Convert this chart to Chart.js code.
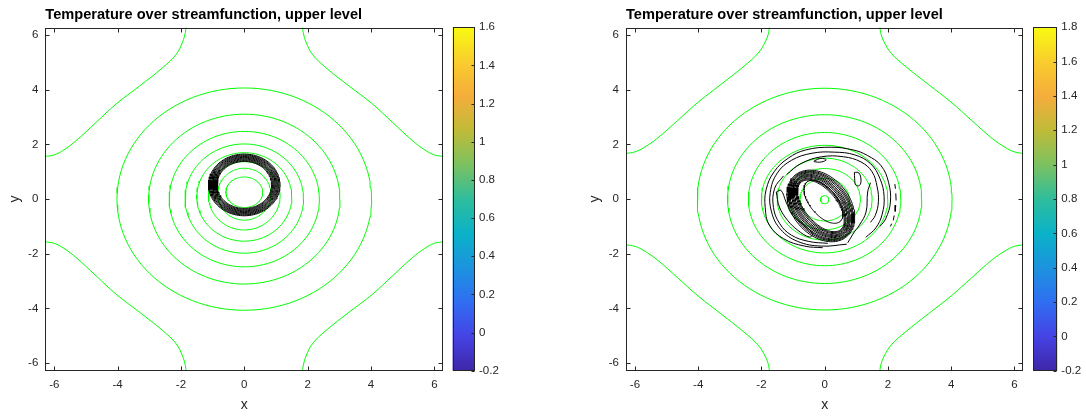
<!doctype html>
<html lang="en">
<head>
<meta charset="utf-8">
<title>Temperature over streamfunction, upper level</title>
<script src="https://cdn.jsdelivr.net/npm/chart.js@4.4.1/dist/chart.umd.min.js"></script>
<style>
  body { margin: 0; background: #fff; overflow: hidden; }
  canvas { position: absolute; top: 0; }
</style>
</head>
<body>
<canvas id="plotLeft" width="452" height="416" style="left:0px"></canvas>
<canvas id="barLeft" width="60" height="416" style="left:446px"></canvas>
<canvas id="plotRight" width="452" height="416" style="left:580px"></canvas>
<canvas id="barRight" width="59" height="416" style="left:1027px"></canvas>
<script>
const TWO_PI = 2 * Math.PI;
const titleText = 'Temperature over streamfunction, upper level';
const axisTicks = [-6, -4, -2, 0, 2, 4, 6];
const leftBarTicks = [-0.2, 0, 0.2, 0.4, 0.6, 0.8, 1, 1.2, 1.4, 1.6];
const rightBarTicks = [-0.2, 0, 0.2, 0.4, 0.6, 0.8, 1, 1.2, 1.4, 1.6, 1.8];
const barColors = ['#3e26a8', '#4543e4', '#306ef2', '#1c93de', '#0ab2c8', '#2fbd9c',
                   '#7cc160', '#c0bb38', '#f5ad3c', '#f9cd2d', '#f8fa12'];

// streamfunction contours (green), closed rings: [rx, ry, cy]
const leftStreamRings = [[4.02, 4.07, 0], [3.02, 3.11, 0], [2.37, 2.48, 0], [1.87, 2.0, 0.02],
                         [1.5, 1.62, 0.08], [1.13, 1.25, 0.12], [0.84, 0.95, 0.18], [0.58, 0.56, 0.25]];
const rightStreamRings = [[4.03, 4.06, 0], [3.07, 3.09, 0], [2.41, 2.44, 0], [2.0, 1.97, 0],
                          [1.5, 1.5, 0], [1.13, 1.12, 0], [0.78, 0.78, -0.02], [0.13, 0.15, -0.02]];
// open streamfunction contour in the upper-left corner (same shape in all four corners)
const leftCorner = [[-6.3, 1.56], [-6.0, 1.62], [-5.7, 1.8], [-5.31, 2.14], [-4.68, 2.81], [-4.05, 3.48],
                    [-3.31, 4.14], [-2.58, 4.81], [-2.15, 5.3], [-1.95, 5.75], [-1.86, 6.1], [-1.84, 6.3]];
const rightCorner = [[-6.3, 1.67], [-6.0, 1.73], [-5.7, 1.9], [-5.3, 2.22], [-4.65, 2.88], [-4.0, 3.55],
                     [-3.28, 4.2], [-2.55, 4.87], [-2.1, 5.35], [-1.87, 5.78], [-1.77, 6.1], [-1.75, 6.3]];

// temperature contours (black)
const leftTempCenter = [0, 0.52];
const leftTempRadii = [0.86, 0.89, 0.92, 0.95, 0.98, 1.01, 1.04, 1.07, 1.10, 1.13];

const rightTempCenter = [-0.12, -0.25];
const rightTempMajorDir = [0.588, -0.809];
const rightTempMinorDir = [0.717, 0.697];
const rightTempMajor = [1.07, 1.10, 1.13, 1.17, 1.20, 1.23, 1.26, 1.30, 1.33, 1.36, 1.39];
const rightTempMinor = [0.54, 0.58, 0.62, 0.67, 0.71, 0.75, 0.79, 0.84, 0.88, 0.92, 0.97];
const rightInnerOval = [-0.04, -0.1, 0.89, 0.45];

const rightSwirls = [
  [[-0.06, -1.78], [-0.64, -1.72], [-1.3, -1.45], [-1.75, -0.95], [-1.88, -0.3], [-1.85, 0.35], [-1.6, 1.0],
   [-1.15, 1.5], [-0.6, 1.8], [0.2, 1.9], [0.9, 1.8], [1.35, 1.6], [1.78, 1.23], [2.02, 0.62], [2.08, -0.11],
   [1.93, -0.72], [1.75, -1.0]],
  [[0.7, -1.65], [-0.11, -1.72], [-0.85, -1.55], [-1.4, -1.1], [-1.68, -0.47], [-1.72, 0.25], [-1.5, 0.95],
   [-1.05, 1.42], [-0.4, 1.68], [0.3, 1.72], [0.95, 1.62], [1.45, 1.3], [1.75, 0.75], [1.88, 0.1], [1.82, -0.55],
   [1.62, -1.05], [1.3, -1.4]],
  [[-1.2, 0.9], [-0.75, 1.3], [-0.1, 1.55], [0.6, 1.55], [1.15, 1.36], [1.5, 1.0], [1.66, 0.45], [1.7, -0.1],
   [1.6, -0.6], [1.45, -0.85]],
  [[1.45, 0.6], [1.36, 0.26], [1.31, -0.47], [1.1, -0.95], [0.94, -1.2], [0.73, -1.6]],
  [[-1.3, 0.85], [-1.58, 0.4], [-1.62, -0.3], [-1.42, -0.9], [-1.05, -1.32], [-0.5, -1.55], [0.1, -1.62]],
  [[-1.53, 0.26], [-1.38, 0.32], [-1.22, -0.11], [-1.01, -0.6], [-0.64, -0.96], [-0.38, -1.26], [-0.48, -1.39],
   [-0.85, -1.14], [-1.17, -0.78], [-1.43, -0.29], [-1.53, 0.26]],
  [[0.94, 0.98], [1.08, 0.96], [1.15, 0.7], [1.1, 0.5], [0.98, 0.52], [0.95, 0.75], [0.94, 0.98]],
  [[-0.33, 1.4], [-0.12, 1.49], [0.05, 1.44], [-0.1, 1.36], [-0.33, 1.37], [-0.33, 1.4]]
];
const rightDashes = [
  [[2.22, 0.55], [2.24, 0.38]], [[2.25, 0.21], [2.26, -0.05]], [[2.25, -0.22], [2.23, -0.45]],
  [[2.2, -0.6], [2.17, -0.78]], [[2.12, -0.9], [2.08, -1.0]]
];

Chart.defaults.font.family = "'Liberation Sans', Arial, sans-serif";
Chart.defaults.color = '#262626';

// closed curve from centre and two half-axis vectors
const ring = (cx, cy, ax, ay, bx, by) => {
  const pts = [];
  for (let k = 0; k <= 120; k++) {
    const t = k / 120 * TWO_PI;
    pts.push({x: cx + ax * Math.cos(t) + bx * Math.sin(t), y: cy + ay * Math.cos(t) + by * Math.sin(t)});
  }
  return pts;
};
const toXY = (arr, sx = 1, sy = 1) => arr.map(([x, y]) => ({x: sx * x, y: sy * y}));

const line = (pts, color, order, tension = 0) => ({
  data: pts, showLine: true, borderColor: color, borderWidth: 1,
  pointRadius: 0, tension: tension, fill: false, order: order
});

const streamSets = (rings, corner) => {
  const sets = rings.map(([rx, ry, cy]) => line(ring(0, cy, rx, 0, 0, ry), '#00ff00', 1));
  [[1, 1], [-1, 1], [1, -1], [-1, -1]].forEach(([sx, sy]) => {
    sets.push(line(toXY(corner, sx, sy), '#00ff00', 1, 0.4));
  });
  return sets;
};

const leftSets = streamSets(leftStreamRings, leftCorner).concat(
  leftTempRadii.map(r => line(ring(leftTempCenter[0], leftTempCenter[1], r, 0, 0, r), '#000000', 0))
);

const rightSets = streamSets(rightStreamRings, rightCorner).concat(
  rightTempMajor.map((m, i) => {
    const n = rightTempMinor[i];
    return line(ring(rightTempCenter[0], rightTempCenter[1],
      m * rightTempMajorDir[0], m * rightTempMajorDir[1],
      n * rightTempMinorDir[0], n * rightTempMinorDir[1]), '#000000', 0);
  }),
  [line(ring(rightInnerOval[0], rightInnerOval[1],
    rightInnerOval[2] * rightTempMajorDir[0], rightInnerOval[2] * rightTempMajorDir[1],
    rightInnerOval[3] * rightTempMinorDir[0], rightInnerOval[3] * rightTempMinorDir[1]), '#000000', 0)],
  rightSwirls.map(s => line(toXY(s), '#000000', 0, 0.4)),
  rightDashes.map(s => line(toXY(s), '#000000', 0))
);

// box round the plot area and inward tick marks
const framePlugin = {
  id: 'frame',
  afterDatasetsDraw(chart, args, opts) {
    const {ctx, chartArea: a, scales} = chart;
    const l = Math.round(a.left) + 0.5, r = Math.round(a.right) - 0.5;
    const t = Math.round(a.top) + 0.5, b = Math.round(a.bottom) - 0.5;
    const len = opts.len || 4;
    ctx.save();
    ctx.strokeStyle = '#262626';
    ctx.lineWidth = 1;
    ctx.beginPath();
    if (opts.xTicks) {
      scales.x.ticks.forEach(tk => {
        const px = Math.round(scales.x.getPixelForValue(tk.value)) + 0.5;
        ctx.moveTo(px, b); ctx.lineTo(px, b - len);
        ctx.moveTo(px, t); ctx.lineTo(px, t + len);
      });
    }
    scales.y.ticks.forEach(tk => {
      const py = Math.round(scales.y.getPixelForValue(tk.value)) + 0.5;
      if (opts.left) { ctx.moveTo(l, py); ctx.lineTo(l + len, py); }
      if (opts.right) { ctx.moveTo(r, py); ctx.lineTo(r - len, py); }
    });
    ctx.stroke();
    ctx.strokeRect(l, t, r - l, b - t);
    ctx.restore();
  }
};

const setTicks = list => scale => { scale.ticks = list.map(v => ({value: v})); };

const makePlot = (id, datasets, yWidth) => new Chart(document.getElementById(id), {
  type: 'scatter',
  data: {datasets: datasets},
  options: {
    responsive: false,
    animation: false,
    events: [],
    layout: {padding: {left: 0, right: 8.7, top: 0, bottom: 0}},
    plugins: {
      legend: {display: false},
      tooltip: {enabled: false},
      title: {
        display: true, text: titleText, align: 'start', fullSize: false, color: '#000000',
        font: {size: 14.6, weight: 'bold'}, padding: {top: 6, bottom: 4}
      },
      frame: {xTicks: true, left: true, right: true, len: 4}
    },
    scales: {
      x: {
        type: 'linear', min: -TWO_PI, max: TWO_PI,
        afterBuildTicks: setTicks(axisTicks),
        afterFit: s => { s.height = 45.3; },
        grid: {display: false, drawTicks: false},
        border: {display: false},
        ticks: {padding: 7, font: {size: 11.5}, maxRotation: 0, autoSkip: false, callback: v => String(v)},
        title: {display: true, text: 'x', font: {size: 14}, padding: {top: 0, bottom: 2}}
      },
      y: {
        type: 'linear', min: -TWO_PI, max: TWO_PI,
        afterBuildTicks: setTicks(axisTicks),
        afterFit: s => { s.width = yWidth; },
        grid: {display: false, drawTicks: false},
        border: {display: false},
        ticks: {padding: 7, font: {size: 11.5}, autoSkip: false, callback: v => String(v)},
        title: {display: true, text: 'y', font: {size: 14}, padding: {top: 7, bottom: 0}}
      }
    }
  },
  plugins: [framePlugin]
});

const barFill = context => {
  const chart = context.chart;
  const a = chart.chartArea;
  if (!a) return null;
  const g = chart.ctx.createLinearGradient(0, a.bottom, 0, a.top);
  barColors.forEach((c, i) => g.addColorStop(i / (barColors.length - 1), c));
  return g;
};

const makeBar = (id, ticks, padLeft, axisWidth) => new Chart(document.getElementById(id), {
  type: 'bar',
  data: {
    labels: [''],
    datasets: [{
      data: [[ticks[0], ticks[ticks.length - 1]]],
      backgroundColor: barFill, borderWidth: 0, barPercentage: 1, categoryPercentage: 1
    }]
  },
  options: {
    responsive: false,
    animation: false,
    events: [],
    layout: {padding: {left: padLeft, right: 0, top: 27.3, bottom: 45.3}},
    plugins: {
      legend: {display: false},
      tooltip: {enabled: false},
      frame: {xTicks: false, left: false, right: true, len: 3}
    },
    scales: {
      x: {display: false},
      y: {
        position: 'right', min: ticks[0], max: ticks[ticks.length - 1],
        afterBuildTicks: setTicks(ticks),
        afterFit: s => { s.width = axisWidth; },
        grid: {display: false, drawTicks: false},
        border: {display: false},
        ticks: {padding: 4, font: {size: 11.5}, autoSkip: false, callback: v => String(v)}
      }
    }
  },
  plugins: [framePlugin]
});

makePlot('plotLeft', leftSets, 45.3);
makeBar('barLeft', leftBarTicks, 6.5, 31);
makePlot('plotRight', rightSets, 46);
makeBar('barRight', rightBarTicks, 6.3, 28.7);
</script>
</body>
</html>
